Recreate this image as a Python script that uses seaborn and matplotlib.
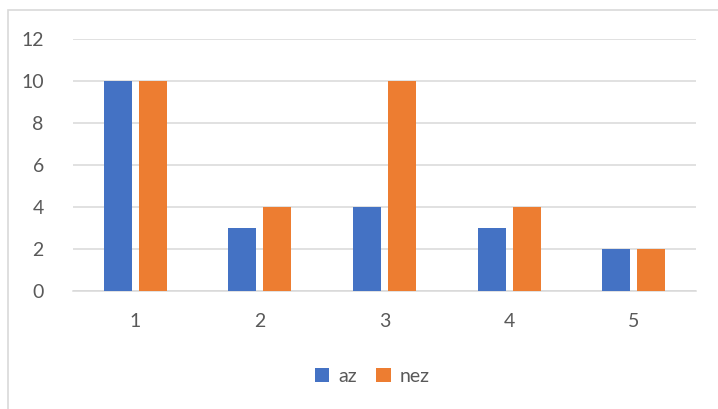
import matplotlib
matplotlib.use("Agg")
import matplotlib.pyplot as plt
from matplotlib.patches import Rectangle, Patch
import seaborn as sns
import pandas as pd

categories = ["1", "2", "3", "4", "5"]
az = [10, 3, 4, 3, 2]
nez = [10, 4, 10, 4, 2]
series_names = ["az", "nez"]
y_ticks = [0, 2, 4, 6, 8, 10, 12]

df = pd.DataFrame({
    "cat": categories * 2,
    "value": az + nez,
    "series": [series_names[0]] * len(az) + [series_names[1]] * len(nez),
})

sns.set_theme(style="white")
plt.rcParams["font.family"] = ["Lato", "DejaVu Sans"]

W, H = 718, 409
fig = plt.figure(figsize=(W / 100, H / 100), dpi=100)
ax = fig.add_axes([73 / W, 1 - 291 / H, (696 - 73) / W, (291 - 39) / H])

palette = {"az": "#4472C4", "nez": "#ED7D31"}
sns.barplot(data=df, x="cat", y="value", hue="series", order=categories,
            hue_order=series_names, palette=palette, width=0.562, gap=0.2,
            saturation=1, linewidth=0, ax=ax, legend=False)

ax.set_xlim(-0.5, len(categories) - 0.5)
ax.set_ylim(0, 12)
ax.set_yticks(y_ticks)
ax.set_yticklabels([str(t) for t in y_ticks])
ax.set_xlabel("")
ax.set_ylabel("")
ax.grid(axis="y", color="#D9D9D9", linewidth=1.1)
ax.set_axisbelow(True)
for side in ["left", "right", "top"]:
    ax.spines[side].set_visible(False)
ax.spines["bottom"].set_color("#D9D9D9")
ax.spines["bottom"].set_linewidth(1.1)
ax.spines["bottom"].set_zorder(0.5)
ax.tick_params(axis="y", length=0, pad=21, labelsize=14, labelcolor="#595959")
ax.tick_params(axis="x", length=0, pad=16, labelsize=14, labelcolor="#595959")

handles = [Patch(facecolor=palette[s], edgecolor="none") for s in series_names]
fig.legend(handles, series_names, loc="center", bbox_to_anchor=(372 / W, 1 - 376 / H),
           ncol=2, frameon=False, fontsize=14, labelcolor="#595959",
           handlelength=0.75, handleheight=0.75, handletextpad=0.45,
           columnspacing=1.0)

# chart-area border
fig.patches.append(Rectangle((8 / W, -0.1), 1.2, 1 - 10 / H + 0.1,
                             transform=fig.transFigure, fill=False,
                             edgecolor="#D9D9D9", linewidth=1.2))

fig.savefig("out.png", dpi=100)
